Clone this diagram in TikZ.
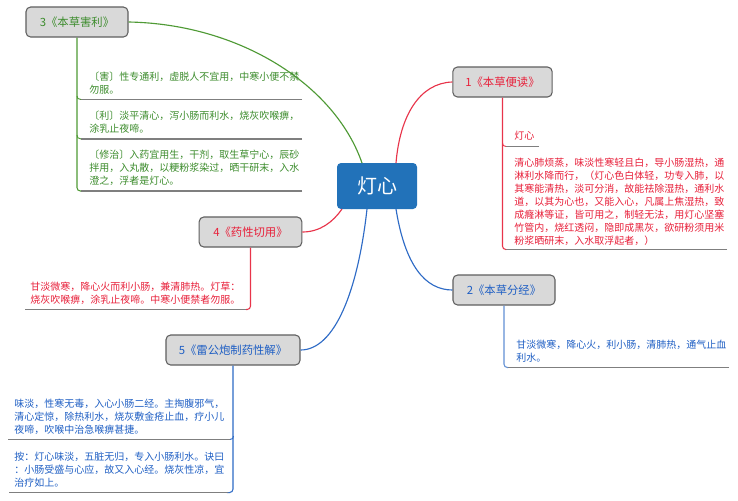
\documentclass[tikz,border=0pt]{standalone}
\usepackage{fontspec}
\setmainfont{Noto Sans CJK SC}
\definecolor{cgreen}{HTML}{4F9A35}
\definecolor{tgreen}{HTML}{3C8C2C}
\definecolor{cred}{HTML}{E8344A}
\definecolor{tred}{HTML}{E8203A}
\definecolor{cblue}{HTML}{2E6BC6}
\definecolor{tblue}{HTML}{1F5FC4}
\definecolor{sepgray}{HTML}{7F7F7F}
\definecolor{topicfill}{HTML}{D9D9D9}
\definecolor{topicedge}{HTML}{5F5F5F}
\definecolor{rootfill}{HTML}{2272B9}
\tikzset{
  topic/.style={draw=topicedge,line width=0.8pt,fill=topicfill,rounded corners=3.5pt,minimum height=22.5pt,inner sep=0pt,font=\fontsize{8.5}{10}\selectfont},
  root/.style={fill=rootfill,rounded corners=3pt,text=white,minimum width=60pt,minimum height=34.5pt,inner sep=0pt,font=\fontsize{15}{18}\selectfont},
  body/.style={anchor=west,inner sep=0pt,align=left,font=\fontsize{7.5}{9.7}\selectfont},
  conn/.style={line width=0.85pt},
  trunk/.style={line width=0.8pt,rounded corners=2.5pt},
  sep/.style={line width=0.8pt,draw=sepgray}
}
\begin{document}
\begin{tikzpicture}[x=0.75pt,y=-0.75pt]
\useasboundingbox (0,0) rectangle (738,500);
\fill[white] (0,0) rectangle (738,500);
% root and topics
\node[root] (c) at (377,186) {灯心};
\node[topic,minimum width=74.5pt,text=tred] (n1) at (502.5,82) {1《本草便读》};
\node[topic,minimum width=76.5pt,text=tblue] (n2) at (504,290) {2《本草分经》};
\node[topic,minimum width=76.5pt,text=tgreen] (n3) at (77,22) {3《本草害利》};
\node[topic,minimum width=77pt,text=tred] (n4) at (250.5,232) {4《药性切用》};
\node[topic,minimum width=100.5pt,text=tblue] (n5) at (233,350) {5《雷公炮制药性解》};
% anchors on the root
\coordinate (c3) at (362,163);
\coordinate (c1) at (396,163);
\coordinate (c4) at (342,209);
\coordinate (c5) at (367,209);
\coordinate (c2) at (396,209);
% main connectors
\draw[conn,cgreen] (n3.east) .. controls (240,24) and (335,85) .. (c3);
\draw[conn,cred] (n1.west) .. controls (420,83) and (400,115) .. (c1);
\draw[conn,cred] (n4.east) .. controls (320,232) and (333,222) .. (c4);
\draw[conn,cblue] (n2.west) .. controls (425,290) and (405,265) .. (c2);
\draw[conn,cblue] (n5.east) .. controls (335,350) and (358,290) .. (c5);
% topic 3 body
\coordinate (g1) at (302,99.5);
\coordinate (g2) at (302,139);
\coordinate (g3) at (302,191);
\draw[sep] (g1) -- (81,99.5);
\draw[sep] (g2) -- (81,139);
\draw[sep] (g3) -- (81,191);
\draw[trunk,cgreen] (n3.south) |- (81,191);
\draw[line width=0.7pt,cgreen] (77,96) .. controls (77,98) and (78,99.5) .. (81,99.5);
\draw[line width=0.7pt,cgreen] (77,135) .. controls (77,137) and (78,139) .. (81,139);
\node[body,text=tgreen] (t31) at (89,83) {〔害〕性专通利，虚脱人不宜用，中寒小便不禁\\勿服。};
\node[body,text=tgreen] (t32) at (89,122.5) {〔利〕淡平清心，泻小肠而利水，烧灰吹喉痹，\\涂乳止夜啼。};
\node[body,text=tgreen] (t33) at (89,168) {〔修治〕入药宜用生，干剂，取生草宁心，辰砂\\拌用，入丸散，以粳粉浆染过，晒干研末，入水\\澄之，浮者是灯心。};
% topic 1 body
\coordinate (r1) at (539,146.5);
\coordinate (r2) at (727,249.5);
\draw[sep] (r1) -- (506,146.5);
\draw[sep] (r2) -- (506,249.5);
\draw[trunk,cred] (n1.south) |- (506,249.5);
\draw[line width=0.7pt,cred] (502.5,143) .. controls (502.5,145) and (503.5,146.5) .. (506,146.5);
\node[body,text=tred] (t11) at (514,136) {灯心};
\node[body,text=tred] (t12) at (514,201.5) {清心肺烦蒸，味淡性寒轻且白，导小肠湿热，通\\淋利水降而行，（灯心色白体轻，功专入肺，以\\其寒能清热，淡可分消，故能祛除湿热，通利水\\道，以其为心也，又能入心，凡属上焦湿热，致\\成癃淋等证，皆可用之，制轻无法，用灯心坚塞\\竹管内，烧红透闷，隐即成黑灰，欲研粉须用米\\粉浆晒研末，入水取浮起者，）};
% topic 2 body
\coordinate (b1) at (729,367.5);
\draw[sep] (b1) -- (508,367.5);
\draw[trunk,cblue!75!white] (n2.south) |- (508,367.5);
\node[body,text=tblue] (t21) at (516,351) {甘淡微寒，降心火，利小肠，清肺热，通气止血\\利水。};
% topic 4 body
\coordinate (d1) at (25,309.5);
\draw[sep] (d1) -- (246,309.5);
\draw[trunk,cred] (n4.south) |- (246,309.5);
\node[body,text=tred] (t41) at (30,293) {甘淡微寒，降心火而利小肠，兼清肺热。灯草：\\烧灰吹喉痹，涂乳止夜啼。中寒小便禁者勿服。};
% topic 5 body
\coordinate (e1) at (8,439.5);
\coordinate (e2) at (9,492.5);
\draw[sep] (e1) -- (230,439.5);
\draw[sep] (e2) -- (230,492.5);
\draw[trunk,cblue] (n5.south) |- (230,492.5);
\draw[line width=0.7pt,cblue] (233.5,436) .. controls (233.5,438) and (232.5,439.5) .. (230,439.5);
\node[body,text=tblue] (t51) at (14,417) {味淡，性寒无毒，入心小肠二经。主掏腹邪气，\\清心定惊，除热利水，烧灰敷金疮止血，疗小儿\\夜啼，吹喉中治急喉痹甚捷。};
\node[body,text=tblue] (t52) at (14,469.5) {按：灯心味淡，五脏无归，专入小肠利水。诀曰\\：小肠受盛与心应，故又入心经。烧灰性凉，宜\\治疗如上。};
\end{tikzpicture}
\end{document}
